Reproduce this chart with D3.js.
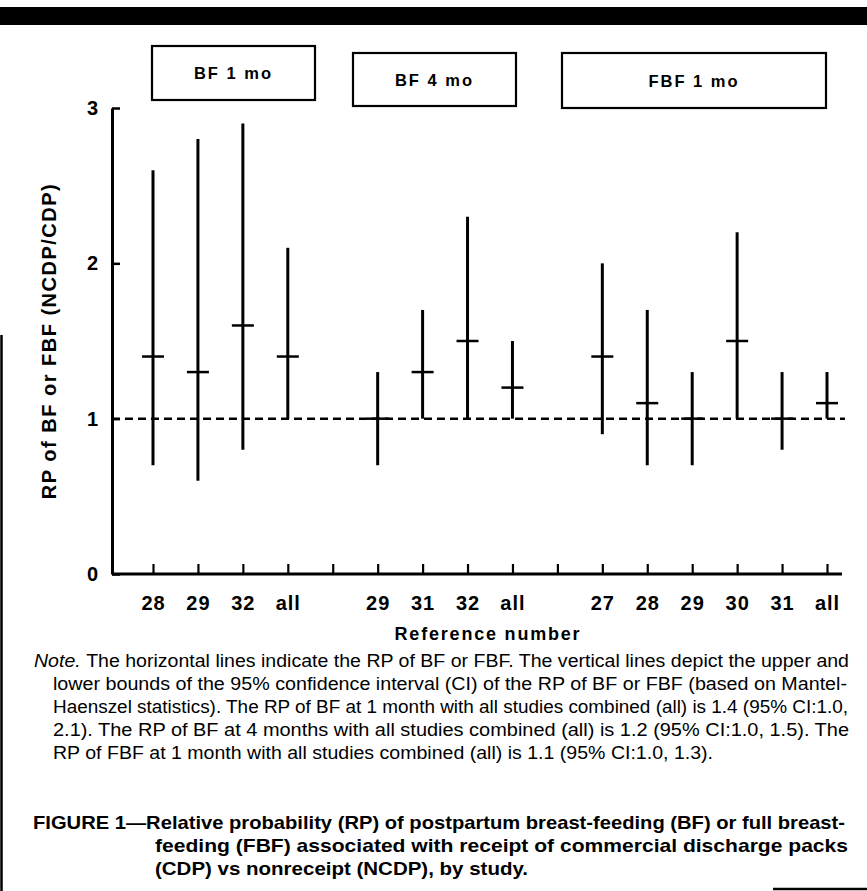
<!DOCTYPE html>
<html lang="en">

<head>
    <meta charset="UTF-8">
    <script src="https://d3js.org/d3.v7.min.js"></script>
    <title>Figure 1</title>
    <style>
        body { margin: 0; background: #fff; }
        svg text { font-family: "Liberation Sans", Arial, Helvetica, sans-serif; fill: #000; }
    </style>
</head>

<body>
    <svg class="fig"></svg>
    <script>
        // data
        var groups = ["BF 1 mo", "BF 4 mo", "FBF 1 mo"];
        var refs = ["28", "29", "32", "all", "", "29", "31", "32", "all", "", "27", "28", "29", "30", "31", "all"];
        var rp = [1.4, 1.3, 1.6, 1.4, null, 1.0, 1.3, 1.5, 1.2, null, 1.4, 1.1, 1.0, 1.5, 1.0, 1.1];
        var lower = [0.7, 0.6, 0.8, 1.0, null, 0.7, 1.0, 1.0, 1.0, null, 0.9, 0.7, 0.7, 1.0, 0.8, 1.0];
        var upper = [2.6, 2.8, 2.9, 2.1, null, 1.3, 1.7, 2.3, 1.5, null, 2.0, 1.7, 1.3, 2.2, 1.3, 1.3];
        var yTicks = [0, 1, 2, 3];
        var refLine = 1;

        var yTitle = "RP of BF or FBF (NCDP/CDP)";
        var xTitle = "Reference number";
        var noteLines = [
            "The horizontal lines indicate the RP of BF or FBF. The vertical lines depict the upper and",
            "lower bounds of the 95% confidence interval (CI) of the RP of BF or FBF (based on Mantel-",
            "Haenszel statistics). The RP of BF at 1 month with all studies combined (all) is 1.4 (95% CI:1.0,",
            "2.1). The RP of BF at 4 months with all studies combined (all) is 1.2 (95% CI:1.0, 1.5). The",
            "RP of FBF at 1 month with all studies combined (all) is 1.1 (95% CI:1.0, 1.3)."
        ];
        var captionLines = [
            "FIGURE 1\u2014Relative probability (RP) of postpartum breast-feeding (BF) or full breast-",
            "feeding (FBF) associated with receipt of commercial discharge packs",
            "(CDP) vs nonreceipt (NCDP), by study."
        ];

        // layout
        var boxX = [152, 353, 562], boxY = [46, 53, 53], boxW = [163, 163, 264], boxH = [54, 53, 55];
        var noteX = [53, 53, 53, 53, 53], noteEnd = [849, 847, 848, 849, 713];
        var capX = [33, 155, 155], capEnd = [845, 848, 528];

        var svg = d3.select(".fig")
            .attr("width", 867)
            .attr("height", 891);

        var slots = d3.range(refs.length);
        var x = d3.scalePoint().domain(slots).range([153, 827]);
        var y = d3.scaleLinear().domain([0, 3]).range([574, 108]);
        var x0 = 112;

        // frame bits from the page
        svg.append("rect")
            .attr("x", 0).attr("y", 7).attr("width", 867).attr("height", 18)
            .attr("fill", "#000");
        svg.append("line")
            .attr("x1", 1.5).attr("y1", 335).attr("x2", 1.5).attr("y2", 891)
            .attr("stroke", "#000").attr("stroke-width", 2.5);
        svg.append("line")
            .attr("x1", 773).attr("y1", 889).attr("x2", 867).attr("y2", 889)
            .attr("stroke", "#000").attr("stroke-width", 2.5);

        // group boxes
        for (var g = 0; g < groups.length; g++) {
            svg.append("rect")
                .attr("x", boxX[g]).attr("y", boxY[g])
                .attr("width", boxW[g]).attr("height", boxH[g])
                .attr("fill", "none").attr("stroke", "#000").attr("stroke-width", 2.2);
            svg.append("text")
                .attr("x", boxX[g] + boxW[g] / 2)
                .attr("y", boxY[g] + boxH[g] / 2 + 6)
                .attr("text-anchor", "middle")
                .attr("font-size", 16.5)
                .attr("font-weight", "bold")
                .attr("letter-spacing", 2)
                .text(groups[g]);
        }

        // y axis
        var yAxis = svg.append("g")
            .attr("transform", "translate(" + x0 + ",0)")
            .call(d3.axisLeft(y).tickValues(yTicks).tickFormat(d3.format("d"))
                .tickSize(-8).tickSizeOuter(0).tickPadding(14));
        yAxis.select(".domain").attr("stroke-width", 3);
        yAxis.selectAll(".tick line").attr("stroke-width", 2.5);
        yAxis.selectAll(".tick text")
            .attr("font-size", 20).attr("font-weight", "bold")
            .style("font-family", "'Liberation Sans', Arial, sans-serif");

        // x axis
        var xAxis = svg.append("g")
            .attr("transform", "translate(0," + y(0) + ")")
            .call(d3.axisBottom(x).tickSize(-10).tickSizeOuter(0).tickPadding(22)
                .tickFormat(function(i) { return refs[i]; }));
        xAxis.select(".domain").remove();
        xAxis.selectAll(".tick line").attr("stroke-width", 2.2);
        xAxis.selectAll(".tick text")
            .attr("font-size", 20).attr("font-weight", "bold").attr("letter-spacing", 1)
            .style("font-family", "'Liberation Sans', Arial, sans-serif");
        xAxis.append("line")
            .attr("x1", x0).attr("x2", x(slots[slots.length - 1]) + 15)
            .attr("y1", 0).attr("y2", 0)
            .attr("stroke", "#000").attr("stroke-width", 3);

        // dashed line at RP = 1
        svg.append("line")
            .attr("x1", x0).attr("x2", x(slots[slots.length - 1]) + 18)
            .attr("y1", y(refLine)).attr("y2", y(refLine))
            .attr("stroke", "#000").attr("stroke-width", 2.5)
            .attr("stroke-dasharray", "8,5");

        // confidence intervals and point estimates
        for (var i = 0; i < refs.length; i++) {
            if (rp[i] == null) continue;
            svg.append("line")
                .attr("x1", x(i)).attr("x2", x(i))
                .attr("y1", y(lower[i])).attr("y2", y(upper[i]))
                .attr("stroke", "#000").attr("stroke-width", 3);
            svg.append("line")
                .attr("x1", x(i) - 11).attr("x2", x(i) + 11)
                .attr("y1", y(rp[i])).attr("y2", y(rp[i]))
                .attr("stroke", "#000").attr("stroke-width", 2.5);
        }

        // axis titles
        svg.append("text")
            .attr("transform", "translate(56," + y(1.5) + ") rotate(-90)")
            .attr("text-anchor", "middle")
            .attr("font-size", 20).attr("font-weight", "bold").attr("letter-spacing", 1.5)
            .text(yTitle);
        svg.append("text")
            .attr("x", (x0 + x(slots[slots.length - 1]) + 15) / 2 + 11)
            .attr("y", 640)
            .attr("text-anchor", "middle")
            .attr("font-size", 18).attr("font-weight", "bold").attr("letter-spacing", 1.8)
            .text(xTitle);

        // note
        for (var n = 0; n < noteLines.length; n++) {
            var t = svg.append("text")
                .attr("x", n == 0 ? 34 : noteX[n])
                .attr("y", 667 + 23 * n)
                .attr("font-size", 17.5)
                .attr("textLength", noteEnd[n] - (n == 0 ? 34 : noteX[n]))
                .attr("lengthAdjust", "spacingAndGlyphs");
            if (n == 0) {
                t.append("tspan").attr("font-style", "italic").text("Note. ");
            }
            t.append("tspan").text(noteLines[n]);
        }

        // caption
        for (var c = 0; c < captionLines.length; c++) {
            svg.append("text")
                .attr("x", capX[c])
                .attr("y", 829 + 23 * c)
                .attr("font-size", 18.5).attr("font-weight", "bold")
                .attr("textLength", capEnd[c] - capX[c])
                .attr("lengthAdjust", "spacingAndGlyphs")
                .text(captionLines[c]);
        }
    </script>
</body>

</html>
